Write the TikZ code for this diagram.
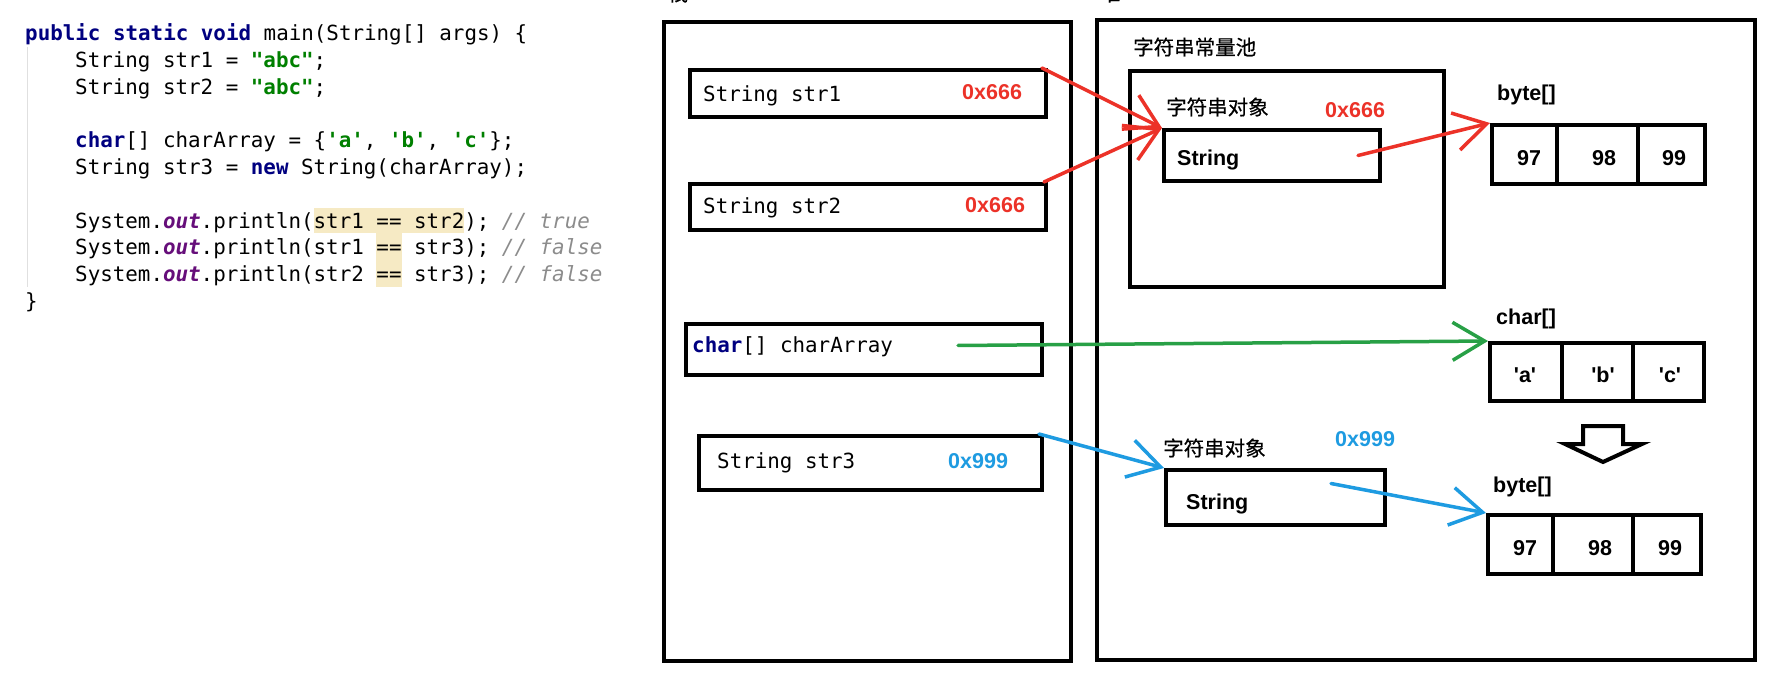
\documentclass[tikz,border=0pt]{standalone}
\usepackage{fontspec}
\setmonofont{DejaVu Sans Mono}
\newfontfamily\lab{Liberation Sans}
\newfontfamily\cjk{Noto Sans CJK SC}[FakeBold=0.5]
\usetikzlibrary{arrows.meta}
\definecolor{kw}{RGB}{0,0,128}
\definecolor{strg}{RGB}{0,128,0}
\definecolor{fld}{RGB}{102,14,122}
\definecolor{cmt}{RGB}{140,140,140}
\definecolor{hl}{RGB}{246,234,196}
\definecolor{ared}{RGB}{236,50,40}
\definecolor{ablue}{RGB}{30,155,225}
\definecolor{agreen}{RGB}{40,160,70}
\newcommand{\kwd}[1]{\textcolor{kw}{\bfseries #1}}
\newcommand{\lit}[1]{\textcolor{strg}{\bfseries #1}}
\newcommand{\fldo}{\textcolor{fld}{\bfseries\itshape out}}
\newcommand{\cmtx}[1]{\textcolor{cmt}{\itshape #1}}
\begin{document}
\begin{tikzpicture}[x=1pt,y=-1pt,
  code/.style={anchor=base west, inner sep=0pt, font=\ttfamily\fontsize{20.85}{26.8}\selectfont},
  box/.style={draw, line width=4pt, inner sep=0pt},
  lbl/.style={inner sep=0pt, font=\lab\bfseries\fontsize{21.5}{24}\selectfont},
  cn/.style={inner sep=0pt, font=\cjk\fontsize{20.5}{24}\selectfont},
  ptr/.style={line width=3.5pt, line cap=round, -{Straight Barb[length=32pt,width=38pt]}}
]
\useasboundingbox (0,0) rectangle (1765,676);
\fill[white] (0,0) rectangle (1765,676);

% ---- code ----
\fill[hl] (313.7,208) rectangle (464.3,233);
\fill[hl] (376.4,233) rectangle (401.5,287);
\draw[black!12, line width=1pt] (27,47) -- (27,287);
\node[code] (l1) at (25,40.5) {\kwd{public static void} main(String[] args) \{};
\node[code] (l2) at (75,67.3) {String str1 = \lit{"abc"};};
\node[code] (l3) at (75,94.1) {String str2 = \lit{"abc"};};
\node[code] (l4) at (75,147.7) {\kwd{char}[] charArray = \{\lit{'a'}, \lit{'b'}, \lit{'c'}\};};
\node[code] (l5) at (75,174.5) {String str3 = \kwd{new} String(charArray);};
\node[code] (l6) at (75,228.1) {System.\fldo.println(str1 == str2); \cmtx{// true}};
\node[code] (l7) at (75,254.9) {System.\fldo.println(str1 == str3); \cmtx{// false}};
\node[code] (l8) at (75,281.7) {System.\fldo.println(str2 == str3); \cmtx{// false}};
\node[code] (l9) at (25,308.5) {\}};

% ---- clipped titles (cut off at the top edge, as in the reference) ----
\node[cn, anchor=base] (zhan) at (678,1) {栈};
\node[cn, anchor=base] (dui) at (1110,1) {堆};

% ---- stack ----
\node[box, minimum width=407pt, minimum height=639pt] (stack) at (867.5,341.5) {};
\node[box, minimum width=356pt, minimum height=47pt] (str1) at (868,93.5) {};
\node[box, minimum width=356pt, minimum height=46pt] (str2) at (868,207) {};
\node[box, minimum width=356pt, minimum height=51pt] (ca) at (864,349.5) {};
\node[box, minimum width=343pt, minimum height=54pt] (str3) at (870.5,463) {};
\node[code] (t1) at (703,102) {String str1};
\node[lbl, anchor=base west, text=ared] (a1) at (962,100) {0x666};
\node[code] (t2) at (703,213.5) {String str2};
\node[lbl, anchor=base west, text=ared] (a2) at (965,213) {0x666};
\node[code] (t3) at (692,352.7) {\kwd{char}[] charArray};
\node[code] (t4) at (717,468) {String str3};
\node[lbl, anchor=base west, text=ablue] (a3) at (948,468) {0x999};

% ---- heap ----
\node[box, minimum width=658pt, minimum height=640pt] (heap) at (1426,340) {};
\node[cn, anchor=west] (poolt) at (1133,47) {字符串常量池};
\node[box, minimum width=314pt, minimum height=216pt] (pool) at (1287,179) {};
\node[cn, anchor=west] (o1t) at (1166,107) {字符串对象};
\node[lbl, anchor=west, text=ared] (a4) at (1325,110) {0x666};
\node[box, minimum width=216pt, minimum height=51pt] (s1obj) at (1272,155.5) {};
\node[lbl, anchor=base west] (s1t) at (1177,166) {String};

\node[cn, anchor=west] (o2t) at (1163,448) {字符串对象};
\node[lbl, anchor=west, text=ablue] (a5) at (1335,439) {0x999};
\node[box, minimum width=219pt, minimum height=55pt] (s2obj) at (1275.5,497.5) {};
\node[lbl, anchor=base west] (s2t) at (1186,509) {String};

% byte[] 1
\node[lbl, anchor=base west] (bl1) at (1497,101) {byte[]};
\node[box, minimum width=65pt, minimum height=59pt] (b11) at (1524.5,154.5) {};
\node[box, minimum width=81pt, minimum height=59pt] (b12) at (1597.5,154.5) {};
\node[box, minimum width=67pt, minimum height=59pt] (b13) at (1671.5,154.5) {};
\node[lbl] (b11t) at (1529,158) {97};
\node[lbl] (b12t) at (1604,158) {98};
\node[lbl] (b13t) at (1674,158) {99};

% char[]
\node[lbl, anchor=base west] (cl) at (1496,325) {char[]};
\node[box, minimum width=72pt, minimum height=58pt] (c1) at (1526,372) {};
\node[box, minimum width=71pt, minimum height=58pt] (c2) at (1597.5,372) {};
\node[box, minimum width=71pt, minimum height=58pt] (c3) at (1668.5,372) {};
\node[lbl] (c1t) at (1525,375) {'a'};
\node[lbl] (c2t) at (1603,375) {'b'};
\node[lbl] (c3t) at (1670,375) {'c'};

% hollow arrow
\draw[line width=4pt, line join=miter] (1583,426) -- (1623,426) -- (1623,444) -- (1642,444) -- (1603,462) -- (1565,444) -- (1583,444) -- cycle;

% byte[] 2
\node[lbl, anchor=base west] (bl2) at (1493,492) {byte[]};
\node[box, minimum width=65pt, minimum height=59pt] (d1) at (1520.5,544.5) {};
\node[box, minimum width=80pt, minimum height=59pt] (d2) at (1593,544.5) {};
\node[box, minimum width=68pt, minimum height=59pt] (d3) at (1667,544.5) {};
\node[lbl] (d1t) at (1525,548) {97};
\node[lbl] (d2t) at (1600,548) {98};
\node[lbl] (d3t) at (1670,548) {99};

% ---- pointers ----
\draw[ptr, ared] ([xshift=-6pt]str1.north east) -- (s1obj.north west);
\draw[ptr, ared] ([xshift=-4pt]str2.north east) -- (s1obj.north west);
\draw[ptr, ared] ([xshift=-24pt]s1obj.east) -- (b11.north west);
\draw[ptr, agreen] ([xshift=-86pt,yshift=4pt]ca.east) -- (c1.north west);
\draw[ptr, ablue] ([xshift=-5pt]str3.north east) -- (s2obj.north west);
\draw[ptr, ablue] ([xshift=-56pt,yshift=14pt]s2obj.east) -- (d1.north west);
\end{tikzpicture}
\end{document}
